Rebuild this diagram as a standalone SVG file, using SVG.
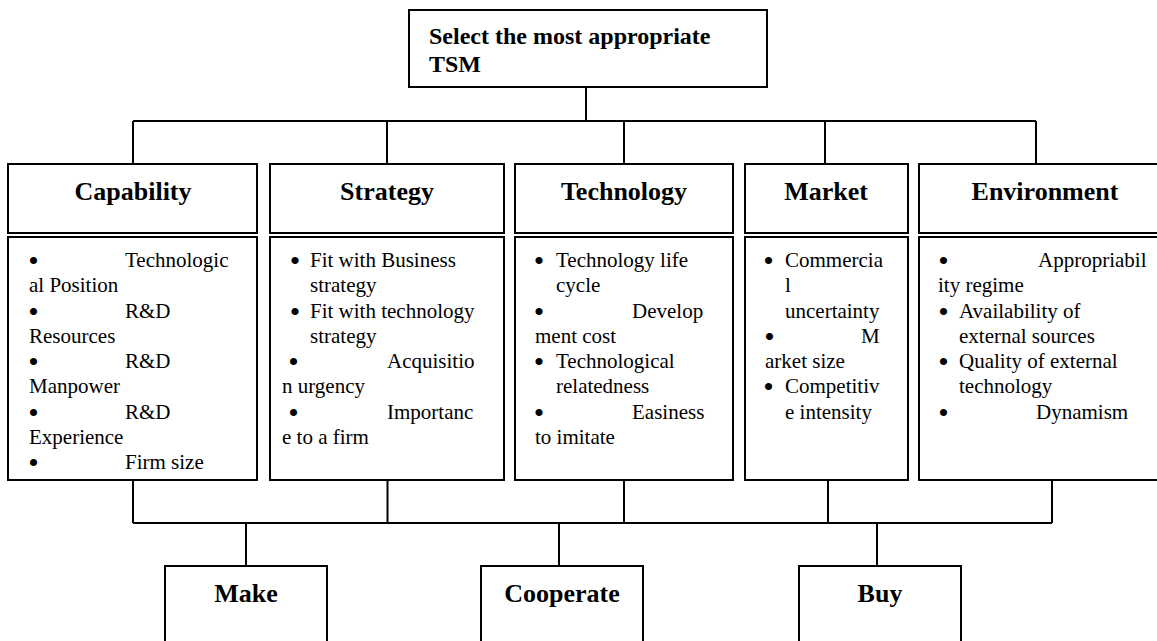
<svg xmlns="http://www.w3.org/2000/svg" width="1157" height="641" viewBox="0 0 1157 641">
<style>
.box{fill:#fff;stroke:#000;stroke-width:2}
.ln{stroke:#000;stroke-width:2;fill:none}
.h{font-family:"Liberation Serif","Times New Roman",serif;font-weight:bold;font-size:26px;fill:#000;text-anchor:middle}
.t{font-family:"Liberation Serif","Times New Roman",serif;font-weight:bold;font-size:24px;fill:#000}
.b{font-family:"Liberation Serif","Times New Roman",serif;font-size:21px;fill:#000}
.u{font-family:"Liberation Serif","Times New Roman",serif;font-size:30px;fill:#000;text-anchor:middle}
</style>
<rect width="1157" height="641" fill="#fff"/>
<g id="connectors">
<path class="ln" d="M586 87V121M133 121H1036M133 121V164M387 121V164M624 121V164M825 121V164M1036 121V164"/>
<path class="ln" d="M133 480V523M387.5 480V523M624 480V523M828 480V523M1052 480V523M133 523H1052M246 523V566M559 523V566M877 523V566"/>
</g>
<g id="top">
<rect class="box" x="409" y="10" width="358" height="77"/>
<text class="t" x="429" y="44">Select the most appropriate</text>
<text class="t" x="429" y="72">TSM</text>
</g>
<g id="capability">
<rect class="box" x="8" y="164" width="249" height="69"/>
<text class="h" x="133" y="200">Capability</text>
<rect class="box" x="8" y="237" width="249" height="243"/>
<text class="u" x="33.5" y="271">•</text><text class="b" x="125" y="267">Technologic</text>
<text class="b" x="29" y="292">al Position</text>
<text class="u" x="33.5" y="322">•</text><text class="b" x="125" y="318">R&amp;D</text>
<text class="b" x="29" y="343">Resources</text>
<text class="u" x="33.5" y="372">•</text><text class="b" x="125" y="368">R&amp;D</text>
<text class="b" x="29" y="393">Manpower</text>
<text class="u" x="33.5" y="423">•</text><text class="b" x="125" y="419">R&amp;D</text>
<text class="b" x="29" y="444">Experience</text>
<text class="u" x="33.5" y="473">•</text><text class="b" x="125" y="469">Firm size</text>
</g>
<g id="strategy">
<rect class="box" x="270" y="164" width="234" height="69"/>
<text class="h" x="387" y="200">Strategy</text>
<rect class="box" x="270" y="237" width="234" height="243"/>
<text class="u" x="295" y="271">•</text><text class="b" x="310" y="267">Fit with Business</text>
<text class="b" x="310" y="292">strategy</text>
<text class="u" x="295" y="322">•</text><text class="b" x="310" y="318">Fit with technology</text>
<text class="b" x="310" y="343">strategy</text>
<text class="u" x="293.5" y="372">•</text><text class="b" x="387" y="368">Acquisitio</text>
<text class="b" x="282" y="393">n urgency</text>
<text class="u" x="293.5" y="423">•</text><text class="b" x="387" y="419">Importanc</text>
<text class="b" x="282" y="444">e to a firm</text>
</g>
<g id="technology">
<rect class="box" x="515" y="164" width="218" height="69"/>
<text class="h" x="624" y="200">Technology</text>
<rect class="box" x="515" y="237" width="218" height="243"/>
<text class="u" x="539" y="271">•</text><text class="b" x="556" y="267">Technology life</text>
<text class="b" x="556" y="292">cycle</text>
<text class="u" x="539" y="322">•</text><text class="b" x="632" y="318">Develop</text>
<text class="b" x="535" y="343">ment cost</text>
<text class="u" x="539" y="372">•</text><text class="b" x="556" y="368">Technological</text>
<text class="b" x="556" y="393">relatedness</text>
<text class="u" x="539" y="423">•</text><text class="b" x="632" y="419">Easiness</text>
<text class="b" x="535" y="444">to imitate</text>
</g>
<g id="market">
<rect class="box" x="745" y="164" width="163" height="69"/>
<text class="h" x="826" y="200">Market</text>
<rect class="box" x="745" y="237" width="163" height="243"/>
<text class="u" x="768.5" y="271">•</text><text class="b" x="785" y="267">Commercia</text>
<text class="b" x="785" y="292">l</text>
<text class="b" x="785" y="318">uncertainty</text>
<text class="u" x="769.5" y="347">•</text><text class="b" x="861" y="343">M</text>
<text class="b" x="765" y="368">arket size</text>
<text class="u" x="768.5" y="397">•</text><text class="b" x="785" y="393">Competitiv</text>
<text class="b" x="785" y="419">e intensity</text>
</g>
<g id="environment">
<rect class="box" x="919" y="164" width="250" height="69"/>
<text class="h" x="1045" y="200">Environment</text>
<rect class="box" x="919" y="237" width="250" height="243"/>
<text class="u" x="943.5" y="271">•</text><text class="b" x="1038" y="267">Appropriabil</text>
<text class="b" x="938" y="292">ity regime</text>
<text class="u" x="943.5" y="322">•</text><text class="b" x="959" y="318">Availability of</text>
<text class="b" x="959" y="343">external sources</text>
<text class="u" x="943.5" y="372">•</text><text class="b" x="959" y="368">Quality of external</text>
<text class="b" x="959" y="393">technology</text>
<text class="u" x="943.5" y="423">•</text><text class="b" x="1036" y="419">Dynamism</text>
</g>
<g id="make">
<rect class="box" x="165" y="566" width="162" height="100"/>
<text class="h" x="246" y="602">Make</text>
</g>
<g id="cooperate">
<rect class="box" x="481" y="566" width="162" height="100"/>
<text class="h" x="562" y="602">Cooperate</text>
</g>
<g id="buy">
<rect class="box" x="799" y="566" width="162" height="100"/>
<text class="h" x="880" y="602">Buy</text>
</g>
</svg>
